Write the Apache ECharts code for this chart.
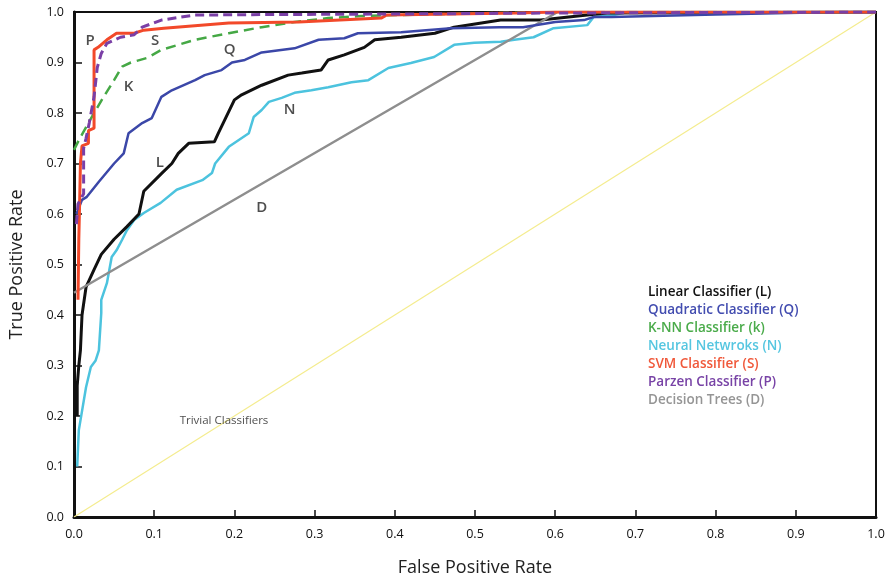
<!DOCTYPE html>
<html>
<head>
<meta charset="utf-8">
<script src="https://cdn.jsdelivr.net/npm/echarts@6/dist/echarts.min.js"></script>
<style>html,body{margin:0;padding:0;background:#fff}#c{width:892px;height:582px}</style>
</head>
<body>
<div id="c"></div>
<script>
// ---- data (FPR, TPR) ----
const linearX = [0.004,0.004,0.006,0.008,0.010,0.015,0.025,0.034,0.050,0.066,0.081,0.087,0.109,0.122,0.130,0.143,0.175,0.180,0.200,0.209,0.234,0.267,0.284,0.308,0.317,0.337,0.362,0.375,0.408,0.450,0.474,0.532,0.582,0.640,0.665,1.0];
const linearY = [0.20,0.26,0.30,0.33,0.40,0.455,0.49,0.52,0.55,0.575,0.60,0.645,0.68,0.70,0.72,0.74,0.743,0.76,0.826,0.836,0.855,0.875,0.879,0.885,0.905,0.915,0.93,0.945,0.95,0.958,0.97,0.984,0.984,0.994,0.998,1.0];

const quadX = [0.003,0.010,0.016,0.031,0.050,0.062,0.068,0.085,0.097,0.109,0.122,0.151,0.163,0.184,0.197,0.213,0.234,0.275,0.305,0.337,0.354,0.408,0.470,0.530,0.560,0.600,0.636,0.648,0.670,0.800,0.950,1.0];
const quadY = [0.60,0.628,0.634,0.664,0.70,0.72,0.76,0.78,0.79,0.832,0.845,0.865,0.875,0.885,0.90,0.905,0.92,0.928,0.945,0.948,0.958,0.96,0.968,0.97,0.97,0.98,0.984,0.99,0.99,0.995,1.0,1.0];

const knnX = [0.0,0.006,0.025,0.037,0.050,0.060,0.071,0.091,0.109,0.151,0.193,0.234,0.275,0.317,0.358,0.480,0.600,1.0];
const knnY = [0.727,0.746,0.80,0.832,0.865,0.892,0.90,0.909,0.925,0.945,0.958,0.97,0.98,0.988,0.992,0.997,1.0,1.0];

const neuralX = [0.004,0.006,0.015,0.021,0.027,0.031,0.034,0.034,0.041,0.047,0.053,0.060,0.066,0.075,0.087,0.108,0.128,0.160,0.172,0.176,0.193,0.218,0.224,0.234,0.243,0.259,0.275,0.296,0.317,0.346,0.367,0.392,0.420,0.449,0.474,0.499,0.532,0.549,0.573,0.598,0.640,0.648,0.673,0.690,1.0];
const neuralY = [0.10,0.172,0.257,0.297,0.31,0.33,0.404,0.43,0.463,0.515,0.528,0.549,0.568,0.588,0.602,0.622,0.648,0.667,0.681,0.70,0.733,0.76,0.792,0.806,0.822,0.83,0.84,0.845,0.851,0.861,0.865,0.889,0.899,0.911,0.935,0.939,0.941,0.945,0.95,0.968,0.974,0.99,0.994,1.0,1.0];

const svmX = [0.005,0.006,0.007,0.008,0.010,0.018,0.018,0.025,0.025,0.030,0.041,0.053,0.075,0.087,0.112,0.193,0.280,0.383,0.390,0.553,0.600,1.0];
const svmY = [0.43,0.55,0.62,0.70,0.735,0.74,0.765,0.77,0.925,0.93,0.945,0.958,0.958,0.964,0.968,0.978,0.98,0.988,0.994,0.998,1.0,1.0];

const parzenX = [0.003,0.005,0.012,0.012,0.015,0.019,0.025,0.029,0.034,0.041,0.058,0.075,0.085,0.109,0.151,0.250,0.400,0.600,1.0];
const parzenY = [0.58,0.62,0.64,0.73,0.75,0.78,0.832,0.89,0.918,0.938,0.95,0.955,0.97,0.984,0.994,0.995,0.996,0.998,1.0];

const treeX = [0.0,0.603,1.0];
const treeY = [0.444,1.0,1.0];

const trivialX = [0.0,1.0];
const trivialY = [0.0,1.0];

const seriesNames = ["Linear Classifier (L)","Quadratic Classifier (Q)","K-NN Classifier (k)","Neural Netwroks (N)","SVM Classifier (S)","Parzen Classifier (P)","Decision Trees (D)"];

const letterText = ["P","S","K","Q","L","N","D"];
const letterX = [0.020,0.101,0.068,0.194,0.107,0.269,0.234];
const letterY = [0.943,0.943,0.853,0.925,0.701,0.806,0.612];

const noteText = ["Trivial Classifiers"];
const noteX = [0.187];
const noteY = [0.19];

// ---- build ----
const zip = (a,b) => a.map((v,i)=>[v,b[i]]);
const FONT = "'Open Sans',sans-serif";
const colors = {
  lin:'#111111', quad:'#3b47a8', knn:'#45a845', nn:'#4cc3de', svm:'#f2492a', parzen:'#7a3fa6', tree:'#8e8e8e', triv:'#f4ec8e'
};
const legendColors = ['#111111','#434db0','#4aab4a','#55c6e0','#f0583a','#7843a6','#959595'];

function lineSeries(name, data, color, width, type, z) {
  return {
    name, type:'line', data, symbol:'none', z: z,
    lineStyle:{color, width, type: type||'solid'},
    itemStyle:{color}, animation:false, silent:true
  };
}
function textSeries(texts, xs, ys, size, color, weight) {
  return {
    type:'scatter', symbol:'circle', symbolSize:1, z:10, silent:true,
    itemStyle:{color:'rgba(0,0,0,0)'},
    data: texts.map((t,i)=>({value:[xs[i],ys[i]], name:t})),
    label:{show:true, position:'inside', formatter:p=>p.name, fontFamily:FONT, fontSize:size, color:color, fontWeight:weight||'normal'}
  };
}

const chart = echarts.init(document.getElementById('c'), null, {renderer:'canvas'});
chart.setOption({
  animation:false,
  backgroundColor:'#fff',
  grid:{left:72, right:16, top:12, bottom:65, show:true, borderColor:'#111', borderWidth:2, backgroundColor:'transparent'},
  xAxis:{
    type:'value', min:0, max:1, interval:0.1,
    name:'False Positive Rate', nameLocation:'middle', nameGap:42,
    nameTextStyle:{fontFamily:FONT, fontSize:18, color:'#222'},
    axisLine:{show:true, lineStyle:{color:'#111', width:3}},
    axisTick:{show:true, inside:true, length:7, lineStyle:{color:'#111', width:1.5}},
    axisLabel:{fontFamily:FONT, fontSize:12.5, color:'#111', margin:11, formatter:v=>v.toFixed(1)},
    splitLine:{show:false}
  },
  yAxis:{
    type:'value', min:0, max:1, interval:0.1,
    name:'True Positive Rate', nameLocation:'middle', nameGap:48, nameRotate:90,
    nameTextStyle:{fontFamily:FONT, fontSize:18, color:'#222'},
    axisLine:{show:true, lineStyle:{color:'#111', width:3}},
    axisTick:{show:true, inside:true, length:8, lineStyle:{color:'#111', width:1.5}},
    axisLabel:{fontFamily:FONT, fontSize:12.5, color:'#111', margin:10, formatter:v=>v.toFixed(1)},
    splitLine:{show:false}
  },
  legend:{
    left:638, top:280, orient:'vertical', icon:'none', itemWidth:0, itemHeight:13, itemGap:4,
    selectedMode:false,
    textStyle:{fontFamily:FONT, fontSize:13.5},
    data: seriesNames.map((n,i)=>({name:n, textStyle:{color:legendColors[i], fontFamily:FONT, fontSize:13.5, fontWeight:600}}))
  },
  series:[
    lineSeries('trivial', zip(trivialX,trivialY), colors.triv, 1.2, 'solid', 1),
    lineSeries(seriesNames[3], zip(neuralX,neuralY), colors.nn, 2.5, 'solid', 2),
    lineSeries(seriesNames[0], zip(linearX,linearY), colors.lin, 3, 'solid', 3),
    lineSeries(seriesNames[6], zip(treeX,treeY), colors.tree, 2.5, 'solid', 4),
    lineSeries(seriesNames[1], zip(quadX,quadY), colors.quad, 2.5, 'solid', 5),
    lineSeries(seriesNames[2], zip(knnX,knnY), colors.knn, 2.5, [10,6], 6),
    lineSeries(seriesNames[4], zip(svmX,svmY), colors.svm, 3, 'solid', 7),
    lineSeries(seriesNames[5], zip(parzenX,parzenY), colors.parzen, 3, [9,5], 8),
    textSeries(letterText, letterX, letterY, 15, '#222', 600),
    textSeries(noteText, noteX, noteY, 11.5, '#222', 'normal')
  ]
});
</script>
</body>
</html>
